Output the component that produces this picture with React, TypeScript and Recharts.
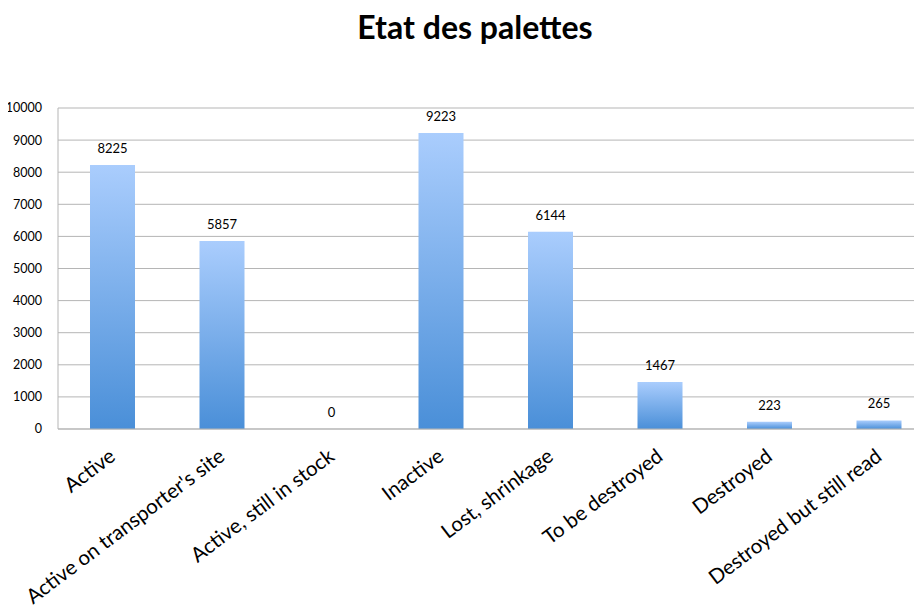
import React from 'react';
import { BarChart, Bar, XAxis, YAxis, CartesianGrid, LabelList } from 'recharts';

const categories = [
  'Active',
  "Active on transporter's site",
  'Active, still in stock',
  'Inactive',
  'Lost, shrinkage',
  'To be destroyed',
  'Destroyed',
  'Destroyed but still read',
];
const counts = [8225, 5857, 0, 9223, 6144, 1467, 223, 265];
const yTicks = [0, 1000, 2000, 3000, 4000, 5000, 6000, 7000, 8000, 9000, 10000];

const data = categories.map((name, i) => ({ name, value: counts[i] }));

const FONT = 'Lato, "Open Sans", sans-serif';

function AngledTick(props: any) {
  const { x, y, payload } = props;
  return (
    <g transform={`translate(${x + 4},${y + 22})`}>
      <text
        transform="rotate(-37)"
        textAnchor="end"
        fontSize={20.5}
        fontFamily={FONT}
        fill="#000"
      >
        {payload.value}
      </text>
    </g>
  );
}

// value label drawn above each bar, including the zero one
function ValueLabel(props: any) {
  const { x, y, width, value } = props;
  return (
    <text
      x={x + width / 2}
      y={y - 12}
      textAnchor="middle"
      fontSize={13}
      fontFamily={FONT}
      fill="#000"
    >
      {value}
    </text>
  );
}

export default function App() {
  return (
    <div style={{ margin: -8, width: 922, height: 614, overflow: 'hidden', position: 'relative', background: '#fff' }}>
      <div
        style={{
          position: 'absolute',
          left: 0,
          width: 950,
          top: 7,
          textAlign: 'center',
          fontFamily: FONT,
          fontWeight: 700,
          fontSize: 32,
        }}
      >
        Etat des palettes
      </div>
      <BarChart
        width={940}
        height={614}
        data={data}
        margin={{ top: 108, right: 6, bottom: 155, left: 0 }}
        barSize={45}
      >
        <defs>
          <linearGradient id="barFill" x1="0" y1="0" x2="0" y2="1">
            <stop offset="0%" stopColor="#aacdfd" />
            <stop offset="100%" stopColor="#4a8fd8" />
          </linearGradient>
        </defs>
        <CartesianGrid vertical={false} stroke="#b5b5b5" />
        <XAxis
          dataKey="name"
          interval={0}
          tickLine={false}
          axisLine={{ stroke: '#b5b5b5' }}
          tick={<AngledTick />}
        />
        <YAxis
          width={58}
          domain={[0, 10000]}
          ticks={yTicks}
          tickLine={false}
          tickMargin={10}
          axisLine={{ stroke: '#b5b5b5' }}
          tick={{ fontSize: 12.5, fill: '#000', fontFamily: FONT }}
        />
        <Bar
          dataKey="value"
          fill="url(#barFill)"
          minPointSize={(v: number) => (v === 0 ? 0.01 : 0)}
          isAnimationActive={false}
        >
          <LabelList dataKey="value" content={<ValueLabel />} />
        </Bar>
      </BarChart>
    </div>
  );
}
